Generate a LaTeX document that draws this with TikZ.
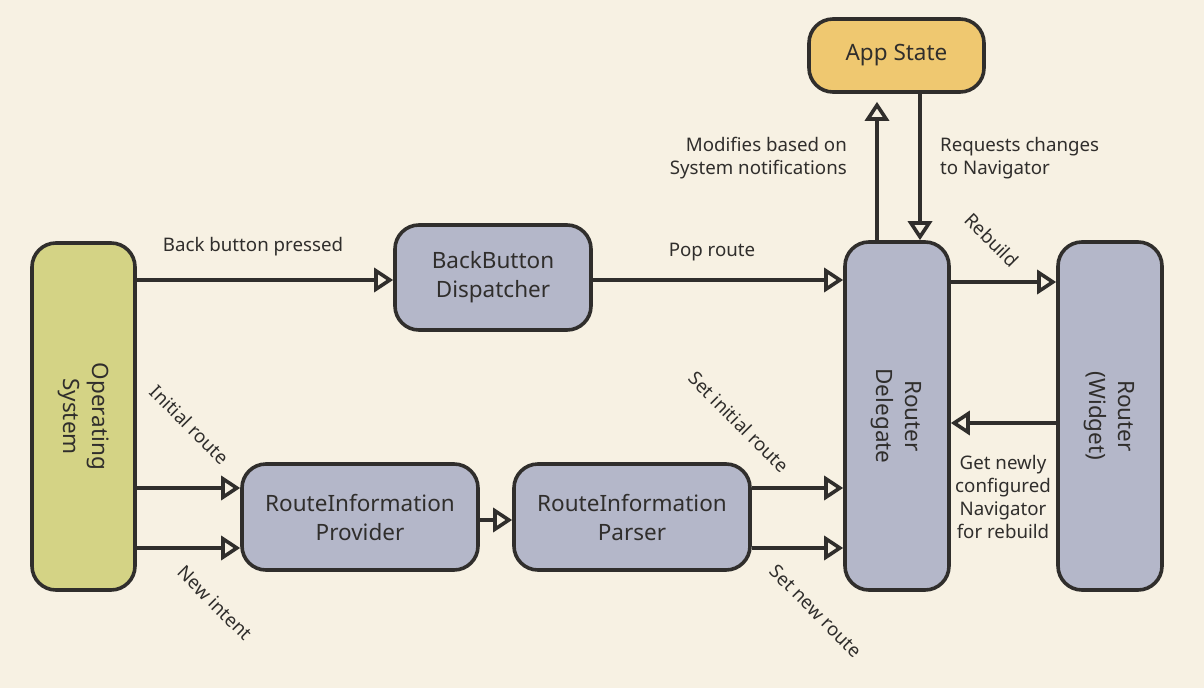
\documentclass[tikz,border=0pt]{standalone}
\usepackage{fontspec}
\setmainfont{Noto Sans}
\usetikzlibrary{arrows.meta}

\definecolor{bgcream}{HTML}{F7F1E3}
\definecolor{inkgray}{HTML}{302E2C}
\definecolor{osgreen}{HTML}{D4D385}
\definecolor{stateyellow}{HTML}{EFC870}
\definecolor{partblue}{HTML}{B4B7C9}

\tikzset{
  part/.style={draw=inkgray, line width=3.6pt, rounded corners=24pt, fill=partblue,
               text=inkgray, font=\fontsize{22.5}{29}\selectfont, align=center, inner sep=0pt},
  flow/.style={draw=inkgray, line width=3.6pt, -{Triangle[open, length=19pt, width=24pt, line width=3.6pt]}},
  tag/.style={text=inkgray, font=\fontsize{18.7}{23}\selectfont, inner sep=0pt},
}

\begin{document}
\begin{tikzpicture}[x=1pt, y=-1pt]
\fill[bgcream] (0,0) rectangle (1204,688); % background
\useasboundingbox (0,0) rectangle (1204,688);

% boxes
\node[part, fill=osgreen, minimum width=103pt, minimum height=347pt] (os) at (83.5,416.5)
     {\rotatebox{-90}{\begin{tabular}{@{}c@{}}Operating\\System\end{tabular}}};
\node[part, minimum width=196pt, minimum height=105pt] (back) at (493,277.5) {BackButton\\Dispatcher};
\node[part, fill=stateyellow, minimum width=175pt, minimum height=73pt] (state) at (896.5,55.5) {App State};
\node[part, minimum width=104pt, minimum height=348pt] (delegate) at (897,416)
     {\rotatebox{-90}{\begin{tabular}{@{}c@{}}Router\\Delegate\end{tabular}}};
\node[part, minimum width=104pt, minimum height=348pt] (router) at (1110,416)
     {\rotatebox{-90}{\begin{tabular}{@{}c@{}}Router\\(Widget)\end{tabular}}};
\node[part, minimum width=236pt, minimum height=106pt] (provider) at (360,517) {RouteInformation\\Provider};
\node[part, minimum width=236pt, minimum height=106pt] (parser) at (632,517) {RouteInformation\\Parser};

% connectors
\draw[flow] (os.east |- 0,280) -- (back.west |- 0,280);
\draw[flow] (back.east |- 0,280) -- (delegate.west |- 0,280);
\draw[flow] (os.east |- 0,488) -- (provider.west |- 0,488);
\draw[flow] (os.east |- 0,548) -- (provider.west |- 0,548);
\draw[flow] (provider.east |- 0,520) -- (parser.west |- 0,520);
\draw[flow] (parser.east |- 0,488) -- (delegate.west |- 0,488);
\draw[flow] (parser.east |- 0,548) -- (delegate.west |- 0,548);
\draw[flow, shorten >=8pt] (delegate.north -| 877,0) -- (state.south -| 877,0);
\draw[flow] (state.south -| 920,0) -- (delegate.north -| 920,0);
\draw[flow] (delegate.east |- 0,282) -- (router.west |- 0,282);
\draw[flow] (router.west |- 0,423) -- (delegate.east |- 0,423);

% labels
\node[tag] (backlbl) at (253,247) {Back button pressed};
\node[tag] (poplbl) at (712,252) {Pop route};
\node[tag, rotate=-45] (initlbl) at (190,425) {Initial route};
\node[tag, rotate=-45] (intentlbl) at (215,603) {New intent};
\node[tag, rotate=-45] (setinitlbl) at (739,422) {Set initial route};
\node[tag, rotate=-45] (setnewlbl) at (816,611) {Set new route};
\node[tag, rotate=-45] (rebuildlbl) at (992,240) {Rebuild};
\node[tag, align=right, anchor=east] (modlbl) at (847,158) {Modifies based on\\System notifications};
\node[tag, align=left, anchor=west] (reqlbl) at (940,158) {Requests changes\\to Navigator};
\node[tag, align=center] (getlbl) at (1003,497) {Get newly\\configured\\Navigator\\for rebuild};
\end{tikzpicture}
\end{document}
